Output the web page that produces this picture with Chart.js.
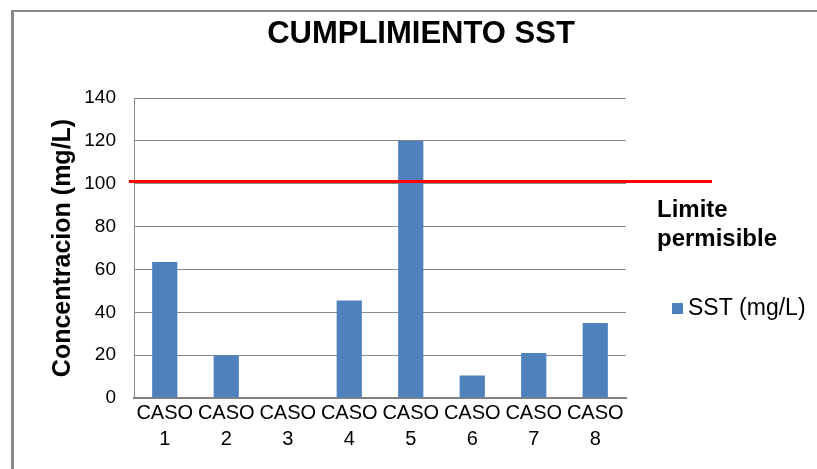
<!DOCTYPE html>
<html>
<head>
<meta charset="utf-8">
<script src="https://cdn.jsdelivr.net/npm/chart.js@4/dist/chart.umd.min.js"></script>
<style>
  html, body { margin: 0; padding: 0; background: #fff; overflow: hidden; }
  #wrap { position: relative; width: 817px; height: 469px; overflow: hidden; }
  #frame { position: absolute; left: 11px; top: 10px; width: 900px; height: 600px;
           border-top: 2px solid #888; border-left: 3px solid #888; box-sizing: border-box; }
  canvas { position: absolute; left: 0; top: 0; }
</style>
</head>
<body>
<div id="wrap">
  <div id="frame"></div>
  <canvas id="chart" width="817" height="469"></canvas>
</div>
<script>
// Chart data
const categories = [['CASO', '1'], ['CASO', '2'], ['CASO', '3'], ['CASO', '4'],
                    ['CASO', '5'], ['CASO', '6'], ['CASO', '7'], ['CASO', '8']];
const sstValues = [63.5, 20, 0, 45.5, 120, 10.5, 21, 35];
const limiteValue = 101;
const yTicks = [0, 20, 40, 60, 80, 100, 120, 140];

const titleText = 'CUMPLIMIENTO SST';
const seriesLabel = 'SST (mg/L)';
const limiteLines = ['Limite', 'permisible'];

const FONT = '"Liberation Sans", Arial, sans-serif';

// Title, limit line and side labels
const extras = {
    id: 'extras',
    afterDatasetsDraw(chart) {
        const { ctx, chartArea, scales } = chart;
        const y = scales.y.getPixelForValue(limiteValue);
        ctx.save();
        ctx.strokeStyle = '#ff0000';
        ctx.lineWidth = 3;
        ctx.beginPath();
        ctx.moveTo(chartArea.left - 5, y);
        ctx.lineTo(chartArea.right + 86, y);
        ctx.stroke();
        ctx.restore();
    },
    afterDraw(chart) {
        const { ctx, chartArea } = chart;
        ctx.save();
        ctx.fillStyle = '#000';
        ctx.textBaseline = 'middle';

        // title
        ctx.font = 'bold 31px ' + FONT;
        ctx.textAlign = 'center';
        ctx.fillText(titleText, 421, 34);

        // "Limite permisible"
        ctx.font = 'bold 24px ' + FONT;
        ctx.textAlign = 'left';
        ctx.fillText(limiteLines[0], chartArea.right + 31, 210);
        ctx.fillText(limiteLines[1], chartArea.right + 31, 239);

        // legend
        ctx.fillStyle = '#4f81bd';
        ctx.fillRect(chartArea.right + 46, 303, 11, 11);
        ctx.fillStyle = '#000';
        ctx.font = '23px ' + FONT;
        ctx.fillText(seriesLabel, chartArea.right + 62, 309);
        ctx.restore();
    }
};

const ctx = document.getElementById('chart').getContext('2d');
new Chart(ctx, {
    type: 'bar',
    data: {
        labels: categories,
        datasets: [{
            label: seriesLabel,
            data: sstValues,
            backgroundColor: '#4f81bd',
            categoryPercentage: 1,
            barPercentage: 0.41
        }]
    },
    options: {
        responsive: false,
        animation: false,
        layout: { padding: { top: 98, right: 191, left: 0, bottom: 0 } },
        plugins: {
            legend: { display: false },
            title: { display: false },
            tooltip: { enabled: false }
        },
        scales: {
            x: {
                grid: { display: false, drawTicks: false },
                border: { color: '#808080', width: 2 },
                ticks: {
                    color: '#000',
                    font: { family: FONT, size: 20, lineHeight: 1.3 },
                    padding: 2,
                    maxRotation: 0,
                    autoSkip: false
                },
                afterFit(scale) { scale.height = 71; }
            },
            y: {
                min: 0,
                max: 140,
                afterBuildTicks(scale) { scale.ticks = yTicks.map(v => ({ value: v })); },
                grid: { color: '#888', lineWidth: 1, drawTicks: false },
                border: { color: '#888', width: 1 },
                ticks: {
                    color: '#000',
                    font: { family: FONT, size: 19 },
                    padding: 18
                },
                title: {
                    display: true,
                    text: 'Concentracion (mg/L)',
                    color: '#000',
                    font: { family: FONT, size: 25, weight: 'bold' },
                    padding: { top: 48, bottom: 0 }
                },
                afterFit(scale) { scale.width = 134; }
            }
        }
    },
    plugins: [extras]
});
</script>
</body>
</html>
